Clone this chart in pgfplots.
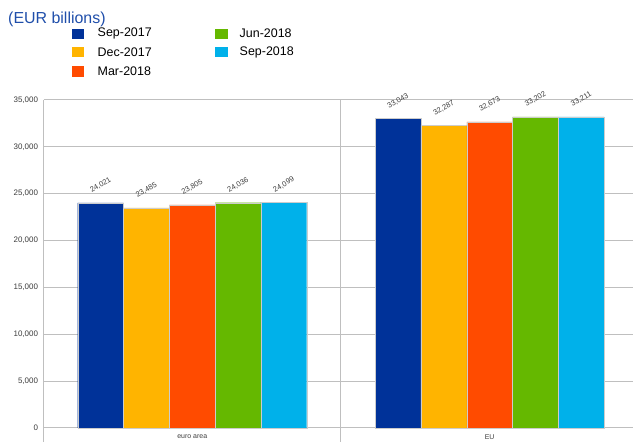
\documentclass[border=0pt]{standalone}
\usepackage{pgfplots}
\pgfplotsset{compat=1.18}
\usepackage{fontspec}
\setmainfont{Liberation Sans}
\definecolor{c1}{RGB}{0,50,153}
\definecolor{c2}{RGB}{255,180,0}
\definecolor{c3}{RGB}{255,75,0}
\definecolor{c4}{RGB}{101,184,0}
\definecolor{c5}{RGB}{0,177,234}
\definecolor{gridc}{RGB}{191,191,191}
\definecolor{titlec}{RGB}{31,78,170}
\definecolor{txt}{RGB}{60,60,60}
\begin{document}
\begin{tikzpicture}[x=1bp,y=1bp]
\useasboundingbox (0,0) rectangle (633,442);
\begin{axis}[
  at={(43.5bp,14bp)}, anchor=south west,
  scale only axis, width=589.5bp, height=328bp,
  xmin=-0.5, xmax=1.482, ymin=0, ymax=35000,
  ybar=0pt, bar width=45.8bp,
  clip=false,
  axis line style={draw=none},
  tick style={draw=none},
  ymajorgrids, grid style={gridc, line width=1bp},
  xtick={0,1}, xticklabels={euro area, EU},
  x tick label style={font=\fontsize{7}{8}\selectfont, text=txt, yshift=1bp},
  ytick={0,5000,...,35000},
  scaled y ticks=false,
  y tick label style={font=\fontsize{8}{9}\selectfont, text=txt, xshift=-2bp},
  /pgf/number format/.cd, 1000 sep={,}, fixed, precision=0, assume math mode=true,
  /pgfplots/.cd,
  nodes near coords,
  every node near coord/.append style={yshift=17.5bp, rotate=30, anchor=center,
     font=\fontsize{7.5}{8}\selectfont, text=txt},
  every axis plot/.append style={draw=black!20, line width=0.4bp},
]
\addplot[fill=c1] coordinates {(0,24021) (1,33043)};
\addplot[fill=c2] coordinates {(0,23485) (1,32287)};
\addplot[fill=c3] coordinates {(0,23805) (1,32673)};
\addplot[fill=c4] coordinates {(0,24036) (1,33202)};
\addplot[fill=c5] coordinates {(0,24099) (1,33211)};
\end{axis}
\draw[gridc, line width=1bp] (43.5,342) -- (43.5,0);
\draw[gridc, line width=1bp] (340.7,342) -- (340.7,0);
% title and legend
\node[anchor=west, inner sep=0, text=titlec, font=\fontsize{16}{18}\selectfont] at (8,423) {(EUR billions)};
\fill[c1] (72.3,403) rectangle (84.3,413);
\fill[c2] (72.3,384.5) rectangle (84.3,394.5);
\fill[c3] (72.3,365) rectangle (84.3,375.5);
\fill[c4] (215,403) rectangle (227.7,413);
\fill[c5] (215,384.5) rectangle (227.7,394.5);
\begin{scope}[every node/.style={anchor=west, inner sep=0, font=\fontsize{12.5}{14}\selectfont}]
\node at (97.5,408.5) {Sep-2017};
\node at (97.5,390) {Dec-2017};
\node at (97.5,370.5) {Mar-2018};
\node at (239.5,408.5) {Jun-2018};
\node at (239.5,390) {Sep-2018};
\end{scope}
\end{tikzpicture}
\end{document}
